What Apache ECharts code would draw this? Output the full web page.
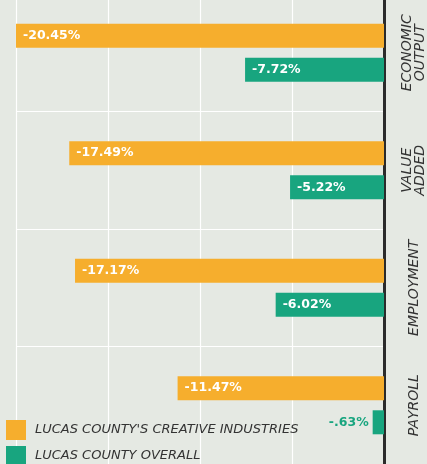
<!DOCTYPE html>
<html>
<head>
<meta charset="utf-8">
<script src="https://cdn.jsdelivr.net/npm/echarts@6/dist/echarts.min.js"></script>
<style>
html,body{margin:0;padding:0;background:#e5e9e3;}
#chart{width:427px;height:464px;}
</style>
</head>
<body>
<div id="chart"></div>
<script>
var categories = ['ECONOMIC\nOUTPUT', 'VALUE\nADDED', 'EMPLOYMENT', 'PAYROLL'];
var creativeValues = [-20.45, -17.49, -17.17, -11.47];
var overallValues = [-7.72, -5.22, -6.02, -0.63];
var seriesNames = ["LUCAS COUNTY'S CREATIVE INDUSTRIES", 'LUCAS COUNTY OVERALL'];

var ORANGE = '#f6ae2d', GREEN = '#18a57f';

function fmt(v) {
  var s = Math.abs(v).toFixed(2);
  if (s.charAt(0) === '0') s = s.substring(1);
  return (v < 0 ? '-' : '') + s + '%';
}

function buildData(vals, color) {
  return vals.map(function (v) {
    if (Math.abs(v) < 2) {
      return { value: v, label: { position: 'left', color: color, distance: 4 } };
    }
    return v;
  });
}

var labelFont = '"DejaVu Sans", "Open Sans", sans-serif';
var legendText = { color: '#333333', fontStyle: 'italic', fontSize: 13, fontFamily: labelFont, padding: [0, 0, 0, 4] };

var chart = echarts.init(document.getElementById('chart'));
chart.setOption({
  backgroundColor: '#e5e9e3',
  animation: false,
  grid: { left: 16, right: 43, top: -6, height: 470, containLabel: false, outerBoundsMode: 'none' },
  xAxis: {
    type: 'value',
    min: -20.45,
    max: 0,
    interval: 5.1125,
    axisLabel: { show: false },
    axisLine: { show: false },
    axisTick: { show: false },
    splitLine: { show: true, lineStyle: { color: '#ffffff', width: 1.2 } }
  },
  yAxis: {
    type: 'category',
    data: categories,
    inverse: true,
    position: 'right',
    axisLine: { show: true, onZero: false, lineStyle: { color: '#2b2b2b', width: 3 } },
    axisTick: { show: false },
    splitLine: { show: true, interval: 0, lineStyle: { color: '#ffffff', width: 1.2 } },
    axisLabel: {
      interval: 0,
      rotate: 90,
      margin: 30,
      verticalAlign: 'middle',
      color: '#333333',
      fontStyle: 'italic',
      fontFamily: labelFont,
      fontSize: 14,
      lineHeight: 12.5
    }
  },
  legend: [
    {
      left: 6, top: 420, itemWidth: 20, itemHeight: 20, icon: 'rect', padding: 0,
      textStyle: legendText, data: [seriesNames[0]]
    },
    {
      left: 6, top: 446, itemWidth: 20, itemHeight: 20, icon: 'rect', padding: 0,
      textStyle: legendText, data: [seriesNames[1]]
    }
  ],
  series: [
    {
      name: seriesNames[0],
      type: 'bar',
      data: buildData(creativeValues, ORANGE),
      barWidth: 24,
      barGap: '42%',
      itemStyle: { color: ORANGE },
      label: {
        show: true,
        position: 'insideLeft',
        distance: 7,
        color: '#ffffff',
        fontWeight: 'bold',
        fontSize: 12.5,
        fontFamily: labelFont,
        formatter: function (p) { return fmt(p.value); }
      }
    },
    {
      name: seriesNames[1],
      type: 'bar',
      data: buildData(overallValues, GREEN),
      barWidth: 24,
      barGap: '42%',
      itemStyle: { color: GREEN },
      label: {
        show: true,
        position: 'insideLeft',
        distance: 7,
        color: '#ffffff',
        fontWeight: 'bold',
        fontSize: 12.5,
        fontFamily: labelFont,
        formatter: function (p) { return fmt(p.value); }
      }
    }
  ]
});
</script>
</body>
</html>
